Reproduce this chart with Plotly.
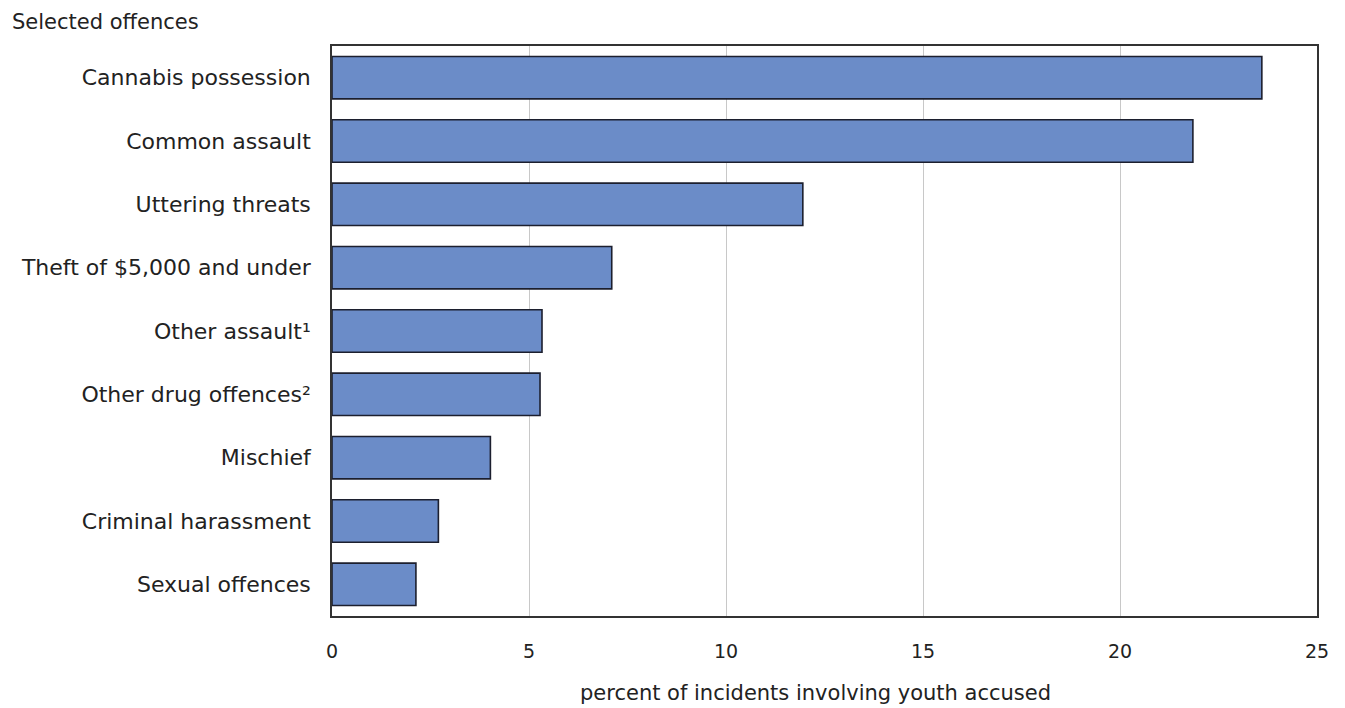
import plotly.graph_objects as go

categories = [
    "Cannabis possession",
    "Common assault",
    "Uttering threats",
    "Theft of $5,000 and under",
    "Other assault¹",
    "Other drug offences²",
    "Mischief",
    "Criminal harassment",
    "Sexual offences",
]
values = [23.6, 21.85, 11.95, 7.1, 5.33, 5.28, 4.02, 2.7, 2.13]
x_ticks = [0, 5, 10, 15, 20, 25]

FONT = "DejaVu Sans"
TXT = "#222222"

fig = go.Figure()
fig.add_trace(go.Bar(
    x=values,
    y=categories,
    orientation="h",
    width=0.67,
    marker=dict(color="#6b8cc8", line=dict(color="#1c1f2e", width=1.6)),
    hoverinfo="x+y",
))

# page has an 8px body margin, so the figure is 8px smaller and margins shifted
fig.update_layout(
    width=1337,
    height=700,
    margin=dict(l=324, r=28, t=38, b=92),
    paper_bgcolor="white",
    plot_bgcolor="white",
    showlegend=False,
    font=dict(family=FONT, size=20, color=TXT),
)

fig.update_xaxes(
    range=[0, 25],
    tickvals=x_ticks,
    ticktext=[str(t) for t in x_ticks],
    showgrid=True,
    gridcolor="#c8c8c8",
    gridwidth=1.3,
    zeroline=False,
    showline=True,
    linecolor="#333333",
    linewidth=1.6,
    mirror=True,
    ticks="",
    ticklabelstandoff=17,
    tickfont=dict(family=FONT, size=19, color=TXT),
)

fig.update_yaxes(
    categoryorder="array",
    categoryarray=categories,
    autorange="reversed",
    range=[8.5, -0.5],
    showgrid=False,
    zeroline=False,
    showline=True,
    linecolor="#333333",
    linewidth=1.6,
    mirror=True,
    ticks="",
    ticklabelstandoff=15,
    tickfont=dict(family=FONT, size=22, color=TXT),
)

PW, PH = 985, 570

fig.add_annotation(
    text="Selected offences",
    xref="paper", yref="paper",
    x=-322 / PW, y=1 + 38 / PH,
    xanchor="left", yanchor="top",
    showarrow=False,
    font=dict(family=FONT, size=21, color=TXT),
)

fig.add_annotation(
    text="percent of incidents involving youth accused",
    xref="paper", yref="paper",
    x=(815 - 332) / PW, y=-77 / PH,
    xanchor="center", yanchor="middle",
    showarrow=False,
    font=dict(family=FONT, size=21, color=TXT),
)

fig.write_html("out.html")
